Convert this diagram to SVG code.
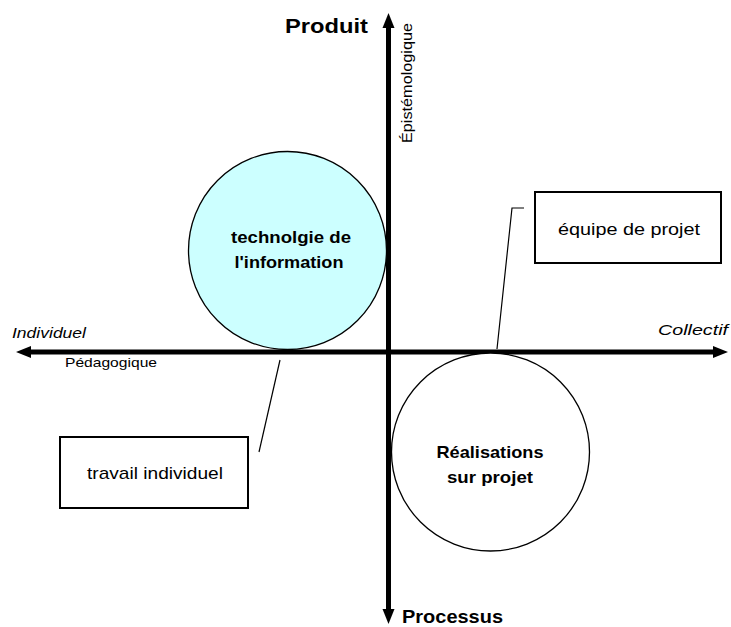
<svg xmlns="http://www.w3.org/2000/svg" width="731" height="627" viewBox="0 0 731 627">
<style>
text{font-family:"Liberation Sans",Arial,sans-serif;fill:#000}
.b{font-weight:bold}
.i{font-style:italic}
.axis{stroke:#000;stroke-width:5;fill:none}
.head{fill:#000}
.lead{stroke:#000;stroke-width:1.2;fill:none}
.box{fill:#fff;stroke:#000;stroke-width:2}
.circ{stroke:#000;stroke-width:1.3}
</style>
<rect width="731" height="627" fill="#fff"/>
<g id="axes">
<line class="axis" x1="388.5" y1="26" x2="388.5" y2="612"/>
<polygon class="head" points="388.5,13 382.5,28 394.5,28"/>
<polygon class="head" points="388.5,624 382.5,609 394.5,609"/>
<line class="axis" x1="28" y1="352" x2="716" y2="352"/>
<polygon class="head" points="16,352 31,346 31,358"/>
<polygon class="head" points="728,352 713,346 713,358"/>
</g>
<g id="axis-labels">
<text class="b" x="285" y="33" font-size="21" textLength="83" lengthAdjust="spacingAndGlyphs">Produit</text>
<text class="b" x="402" y="623" font-size="18" textLength="101" lengthAdjust="spacingAndGlyphs">Processus</text>
<text class="i" x="12" y="338" font-size="15" textLength="74" lengthAdjust="spacingAndGlyphs">Individuel</text>
<text x="65" y="367" font-size="13" textLength="92" lengthAdjust="spacingAndGlyphs">Pédagogique</text>
<text class="i" x="658" y="335" font-size="15" textLength="70" lengthAdjust="spacingAndGlyphs">Collectif</text>
<text x="0" y="0" font-size="14" transform="translate(412,143) rotate(-90)" textLength="120" lengthAdjust="spacingAndGlyphs">Épistémologique</text>
</g>
<g id="connectors">
<polyline class="lead" points="524,208 512,208 497,349"/>
<line class="lead" x1="259" y1="452" x2="280" y2="360"/>
</g>
<g id="node-techno">
<circle class="circ" cx="287.5" cy="250.5" r="99" fill="#ccffff"/>
<text class="b" x="291" y="243" font-size="17" text-anchor="middle" textLength="120" lengthAdjust="spacingAndGlyphs">technolgie de</text>
<text class="b" x="289" y="268" font-size="17" text-anchor="middle" textLength="109" lengthAdjust="spacingAndGlyphs">l'information</text>
</g>
<g id="node-realisations">
<circle class="circ" cx="490.5" cy="452" r="99" fill="#fff"/>
<text class="b" x="490" y="458" font-size="17" text-anchor="middle" textLength="107" lengthAdjust="spacingAndGlyphs">Réalisations</text>
<text class="b" x="490" y="483" font-size="17" text-anchor="middle" textLength="86" lengthAdjust="spacingAndGlyphs">sur projet</text>
</g>
<g id="node-equipe">
<rect class="box" x="535" y="192" width="186" height="71"/>
<text x="629" y="235" font-size="17" text-anchor="middle" textLength="142" lengthAdjust="spacingAndGlyphs">équipe de projet</text>
</g>
<g id="node-travail">
<rect class="box" x="60" y="437" width="188" height="71"/>
<text x="155" y="479" font-size="17" text-anchor="middle" textLength="136" lengthAdjust="spacingAndGlyphs">travail individuel</text>
</g>
</svg>
